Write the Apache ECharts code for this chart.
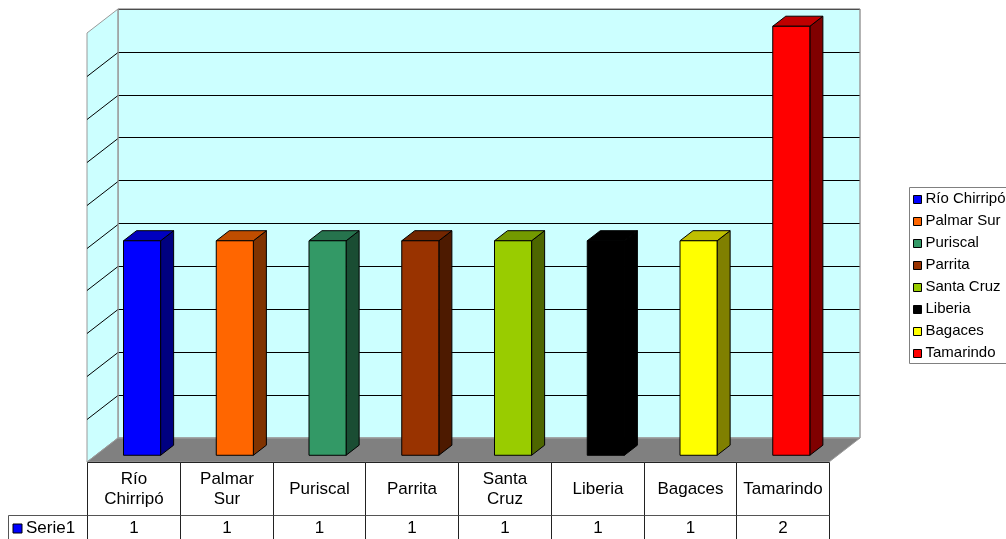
<!DOCTYPE html>
<html>
<head>
<meta charset="utf-8">
<script src="https://cdn.jsdelivr.net/npm/echarts@6/dist/echarts.min.js"></script>
<style>
  html, body { margin: 0; padding: 0; background: #ffffff; }
  #chart { width: 1006px; height: 539px; }
</style>
</head>
<body>
<div id="chart"></div>
<script>
// Categories, table captions and values
const categories = ['Río Chirripó', 'Palmar Sur', 'Puriscal', 'Parrita', 'Santa Cruz', 'Liberia', 'Bagaces', 'Tamarindo'];
const tableLabels = ['Río\nChirripó', 'Palmar\nSur', 'Puriscal', 'Parrita', 'Santa\nCruz', 'Liberia', 'Bagaces', 'Tamarindo'];
const serieName = 'Serie1';
const serie1 = [1, 1, 1, 1, 1, 1, 1, 2];
const barColors = ['#0000FF', '#FF6600', '#339966', '#993300', '#99CC00', '#000000', '#FFFF00', '#FF0000'];

// Value axis range
const yMin = 0;
const yMax = 2;
const yStep = 0.2;

// Drawing constants
const FONT = '"Liberation Sans", Arial, sans-serif';
const DEPTH = [-31, 24];          // screen offset from back wall to front edge of the floor
const BAR_BACK = 0.3;             // bar depth span as fractions of the floor depth
const BAR_FRONT = 0.72;
const BAR_WIDTH = 0.4;            // bar width as a fraction of the category band
const HEADER_H = 53;              // height of the caption row in the data table
const WALL = '#CCFFFF';
const FLOOR = '#808080';
const WALL_EDGE = '#9A9A9A';

function shade(hex, k) {
  const n = parseInt(hex.slice(1), 16);
  const r = Math.round(((n >> 16) & 255) * k);
  const g = Math.round(((n >> 8) & 255) * k);
  const b = Math.round((n & 255) * k);
  return 'rgb(' + r + ',' + g + ',' + b + ')';
}

const yTicks = [];
for (let v = yMin; v <= yMax + 1e-9; v += yStep) yTicks.push(+v.toFixed(4));

// Side wall, floor, side-wall grid lines and the row header of the table
function renderWalls(params, api) {
  const cs = params.coordSys;
  const L = cs.x, R = cs.x + cs.width, T = cs.y, B = cs.y + cs.height;
  const dx = DEPTH[0], dy = DEPTH[1];
  const children = [];
  children.push({
    type: 'polygon',
    shape: { points: [[L, T], [L + dx, T + dy], [L + dx, B + dy], [L, B]] },
    style: { fill: WALL, stroke: WALL_EDGE, lineWidth: 1 }
  });
  yTicks.forEach(function (t) {
    if (t <= yMin || t >= yMax) return;
    const y = Math.round(api.coord([0, t])[1]) + 0.5;
    children.push({
      type: 'line',
      shape: { x1: L, y1: y, x2: L + dx, y2: y + dy },
      style: { stroke: '#000', lineWidth: 1 }
    });
  });
  children.push({
    type: 'polygon',
    shape: { points: [[L, B], [R, B], [R + dx, B + dy], [L + dx, B + dy]] },
    style: { fill: FLOOR, stroke: WALL_EDGE, lineWidth: 1 }
  });
  // back wall outline
  children.push({
    type: 'rect',
    shape: { x: L, y: T, width: R - L, height: B - T },
    style: { fill: null, stroke: WALL_EDGE, lineWidth: 1 }
  });
  // series key cell of the data table
  const rowY = Math.round(B + dy + HEADER_H) + 0.5;
  const keyX = 8.5;
  children.push({
    type: 'line', shape: { x1: keyX, y1: rowY, x2: L + dx, y2: rowY },
    style: { stroke: '#555', lineWidth: 1 }
  });
  children.push({
    type: 'line', shape: { x1: keyX, y1: rowY, x2: keyX, y2: 560 },
    style: { stroke: '#555', lineWidth: 1 }
  });
  children.push({
    type: 'rect', shape: { x: 13, y: rowY + 8.5, width: 9, height: 9 },
    style: { fill: barColors[0], stroke: '#000', lineWidth: 1 }
  });
  children.push({
    type: 'text', x: 26, y: rowY + 13,
    style: { text: serieName, font: '17px ' + FONT, fill: '#000', align: 'left', verticalAlign: 'middle' }
  });
  return { type: 'group', children: children };
}

// 3D bars
function renderBar(params, api) {
  const i = api.value(0);
  const v = api.value(1);
  const base = api.coord([i, 0]);
  const top = api.coord([i, v]);
  const band = api.size([1, 0])[0];
  const w = band * BAR_WIDTH;
  const fx = DEPTH[0] * BAR_FRONT, fy = DEPTH[1] * BAR_FRONT;
  const bx = DEPTH[0] * BAR_BACK, by = DEPTH[1] * BAR_BACK;
  const x0 = base[0] - w / 2, x1 = base[0] + w / 2;
  const yb = base[1], yt = top[1];
  const c = barColors[i];
  const edge = { stroke: '#000', lineWidth: 1 };
  return {
    type: 'group',
    children: [
      {
        type: 'polygon',
        shape: { points: [[x1 + fx, yt + fy], [x1 + bx, yt + by], [x1 + bx, yb + by], [x1 + fx, yb + fy]] },
        style: Object.assign({ fill: shade(c, 0.5) }, edge)
      },
      {
        type: 'polygon',
        shape: { points: [[x0 + fx, yt + fy], [x1 + fx, yt + fy], [x1 + bx, yt + by], [x0 + bx, yt + by]] },
        style: Object.assign({ fill: shade(c, 0.75) }, edge)
      },
      {
        type: 'rect',
        shape: { x: x0 + fx, y: yt + fy, width: w, height: yb - yt },
        style: Object.assign({ fill: c }, edge)
      }
    ]
  };
}

// One column of the data table under each category
function renderTable(params, api) {
  const i = api.value(0);
  const v = api.value(1);
  const base = api.coord([i, 0]);
  const band = api.size([1, 0])[0];
  const left = Math.round(base[0] - band / 2 + DEPTH[0]) + 0.5;
  const right = Math.round(base[0] + band / 2 + DEPTH[0]) + 0.5;
  const top = Math.round(base[1] + DEPTH[1]) + 0.5;
  const rowY = Math.round(base[1] + DEPTH[1] + HEADER_H) + 0.5;
  const cx = (left + right) / 2;
  const line = { stroke: '#222', lineWidth: 1 };
  return {
    type: 'group',
    children: [
      { type: 'line', shape: { x1: left, y1: top, x2: right, y2: top }, style: line },
      { type: 'line', shape: { x1: left, y1: top, x2: left, y2: 560 }, style: line },
      { type: 'line', shape: { x1: right, y1: top, x2: right, y2: 560 }, style: line },
      { type: 'line', shape: { x1: left, y1: rowY, x2: right, y2: rowY }, style: { stroke: '#555', lineWidth: 1 } },
      {
        type: 'text', x: cx, y: (top + rowY) / 2,
        style: { text: tableLabels[i], font: '17px ' + FONT, lineHeight: 20, fill: '#000', align: 'center', verticalAlign: 'middle' }
      },
      {
        type: 'text', x: cx, y: rowY + 13,
        style: { text: String(v), font: '17px ' + FONT, fill: '#000', align: 'center', verticalAlign: 'middle' }
      }
    ]
  };
}

// Legend at the right
const legendX = 909.5, legendY = 187.5, legendRow = 22;
const legendGraphics = [{
  type: 'rect',
  shape: { x: legendX, y: legendY, width: 110, height: 176 },
  style: { fill: '#ffffff', stroke: '#808080', lineWidth: 1 }
}];
categories.forEach(function (name, i) {
  const cy = legendY + 11.5 + i * legendRow;
  legendGraphics.push({
    type: 'rect',
    shape: { x: legendX + 4, y: Math.round(cy - 4) + 0.5, width: 8, height: 8 },
    style: { fill: barColors[i], stroke: '#000', lineWidth: 1 }
  });
  legendGraphics.push({
    type: 'text', x: legendX + 16, y: cy,
    style: { text: name, font: '15px ' + FONT, fill: '#000', align: 'left', verticalAlign: 'middle' }
  });
});

const chart = echarts.init(document.getElementById('chart'), null, { renderer: 'canvas' });
chart.setOption({
  animation: false,
  backgroundColor: '#ffffff',
  grid: {
    left: 118, top: 9, width: 742, height: 429,
    show: true, backgroundColor: WALL, borderColor: WALL_EDGE, borderWidth: 1
  },
  xAxis: {
    type: 'category',
    data: categories,
    axisLine: { show: false },
    axisTick: { show: false },
    axisLabel: { show: false },
    splitLine: { show: false }
  },
  yAxis: {
    type: 'value',
    min: yMin, max: yMax, interval: yStep,
    axisLine: { show: false },
    axisTick: { show: false },
    axisLabel: { show: false },
    splitLine: { show: true, lineStyle: { color: '#000', width: 1 } }
  },
  series: [
    {
      type: 'custom', name: 'walls', z: 1,
      renderItem: renderWalls,
      data: [[0, 0]],
      silent: true
    },
    {
      type: 'custom', name: serieName, z: 3,
      renderItem: renderBar,
      encode: { x: 0, y: 1 },
      data: serie1.map(function (v, i) { return [i, v]; })
    },
    {
      type: 'custom', name: 'table', z: 4,
      renderItem: renderTable,
      encode: { x: 0, y: 1 },
      data: serie1.map(function (v, i) { return [i, v]; }),
      silent: true
    }
  ],
  graphic: legendGraphics
});
</script>
</body>
</html>
